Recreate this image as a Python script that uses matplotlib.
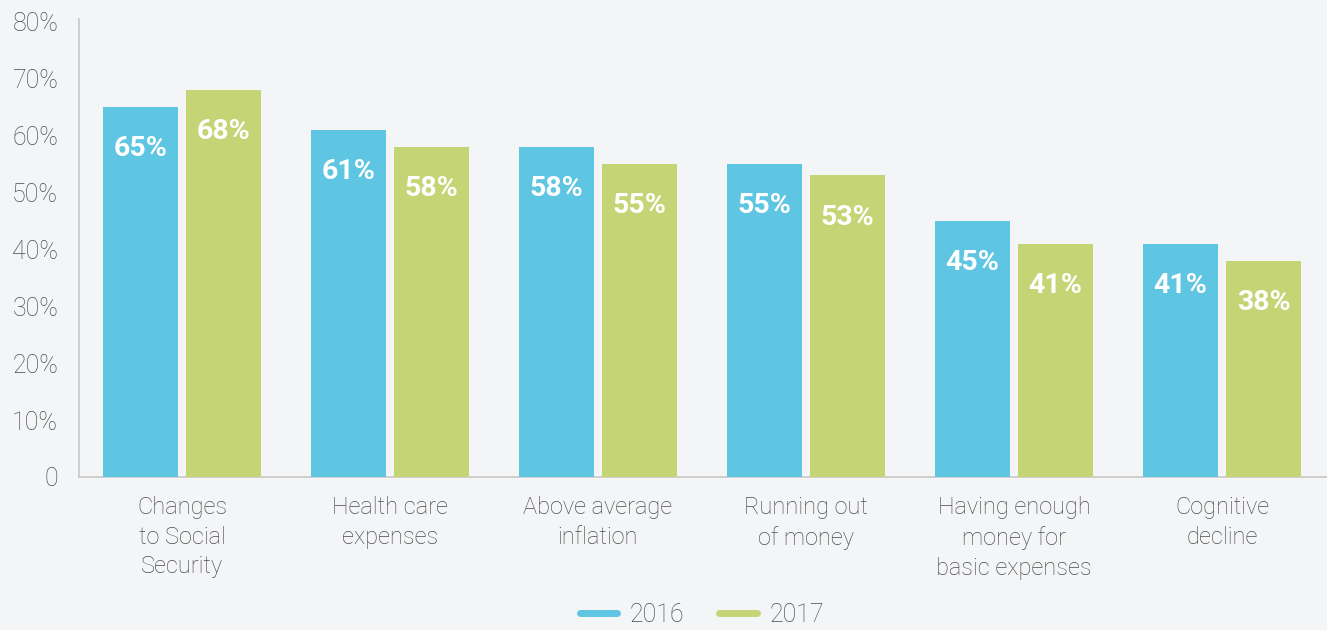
import numpy as np
import matplotlib.pyplot as plt
from matplotlib.lines import Line2D

categories = ["Changes\nto Social\nSecurity", "Health care\nexpenses", "Above average\ninflation",
              "Running out\nof money", "Having enough\nmoney for\nbasic expenses", "Cognitive\ndecline"]
vals_2016 = [65, 61, 58, 55, 45, 41]
vals_2017 = [68, 58, 55, 53, 41, 38]
years = ["2016", "2017"]
y_ticks = [0, 10, 20, 30, 40, 50, 60, 70, 80]
y_ticklabels = ["0", "10%", "20%", "30%", "40%", "50%", "60%", "70%", "80%"]

blue = "#5ec5e2"
green = "#c5d576"
bg = "#f4f5f7"
txt = "#4d4d4d"

plt.rcParams['font.family'] = ['Roboto', 'DejaVu Sans']

fig = plt.figure(figsize=(13.27, 6.30), dpi=100, facecolor=bg)
ax = fig.add_axes([79 / 1327, 153 / 630, 1 - 79 / 1327, 458 / 630])
ax.set_facecolor(bg)

x = np.arange(len(categories))
w = 0.36
off = 0.1995
b1 = ax.bar(x - off, vals_2016, w, color=blue, zorder=3)
b2 = ax.bar(x + off, vals_2017, w, color=green, zorder=3)

# value labels sit inside the top of each bar
for bars, vals in [(b1, vals_2016), (b2, vals_2017)]:
    for rect, v in zip(bars, vals):
        ax.annotate(f"{v}%", (rect.get_x() + rect.get_width() / 2, v),
                    xytext=(0, -30), textcoords="offset points",
                    ha="center", va="center", color="white",
                    fontsize=20.5, fontweight="bold", zorder=4)

ax.set_xlim(-0.495, 5.505)
ax.set_ylim(0, 80.5)
ax.set_yticks(y_ticks)
ax.set_yticklabels(y_ticklabels, fontsize=18, fontweight="light", color=txt)
ax.set_xticks(x)
ax.set_xticklabels(categories, fontsize=17, fontweight="light", color=txt, linespacing=1.36)
ax.tick_params(axis="y", length=0, pad=15)
ax.tick_params(axis="x", length=0, pad=14)

for s in ["top", "right"]:
    ax.spines[s].set_visible(False)
for s in ["left", "bottom"]:
    ax.spines[s].set_color("#c8c8c8")
    ax.spines[s].set_linewidth(1.2)

handles = [Line2D([], [], color=blue, lw=5, solid_capstyle="round"),
           Line2D([], [], color=green, lw=5, solid_capstyle="round")]
leg = fig.legend(handles, years, loc="center", bbox_to_anchor=(0.529, 0.024),
                 ncol=2, frameon=False, fontsize=18, handlelength=1.5,
                 handletextpad=0.5, columnspacing=1.4)
for t in leg.get_texts():
    t.set_color(txt)
    t.set_fontweight("light")

fig.savefig("out.png", dpi=100, facecolor=bg)
